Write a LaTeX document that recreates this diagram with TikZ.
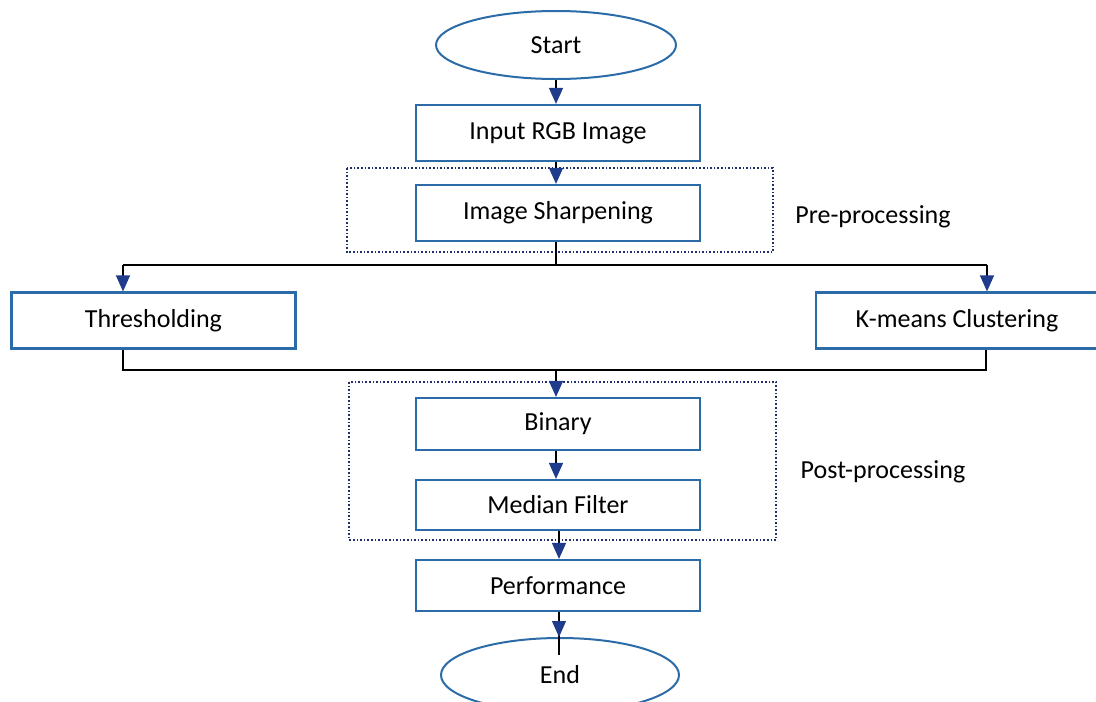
\documentclass[tikz,border=0pt]{standalone}
\usepackage{fontspec}
\setmainfont{Carlito}
\usetikzlibrary{arrows.meta,shapes.geometric}
\definecolor{boxblue}{HTML}{2B6CA8}
\definecolor{tipblue}{HTML}{1F3B8C}
\definecolor{dotblue}{HTML}{1F2F6B}
\tikzset{
  procbox/.style={draw=boxblue, line width=2.2pt, fill=white, minimum width=284pt, minimum height=56pt, inner sep=0pt, font=\fontsize{26}{30}\selectfont},
  termnode/.style={ellipse, draw=boxblue, line width=2pt, fill=white, minimum width=240pt, minimum height=68pt, inner sep=0pt, font=\fontsize{26}{30}\selectfont},
  flow/.style={draw=black, line width=1.2pt, -{Triangle[width=14pt,length=16pt,fill=tipblue,color=tipblue]}},
  plainline/.style={draw=black, line width=1.2pt},
  groupbox/.style={draw=dotblue, line width=1.6pt, dotted},
  grouplabel/.style={font=\fontsize{26}{30}\selectfont, anchor=center}
}
\begin{document}
\begin{tikzpicture}[x=1pt,y=-1pt]
\useasboundingbox (0,0) rectangle (1096,702);
% group frames
\draw[groupbox] (347,168) rectangle (773,252);
\draw[groupbox] (349,382) rectangle (776,540);
% terminals and steps
\node[termnode] (start) at (556,45) {Start};
\node[procbox] (input) at (558,133) {Input RGB Image};
\node[procbox] (sharp) at (558,213) {Image Sharpening};
\node[procbox] (thresh) at (153.5,320.5) {Thresholding};
\node[procbox, minimum width=282pt] (kmeans) at (957,320.5) {K-means Clustering};
\node[procbox, minimum height=52pt] (binary) at (558,424) {Binary};
\node[procbox, minimum height=50pt] (median) at (558,505) {Median Filter};
\node[procbox, minimum height=51pt] (perf) at (558,585.5) {Performance};
\node[termnode, minimum width=238pt, minimum height=74pt] (end) at (560,675) {End};
\node[grouplabel] (prelab) at (873,217) {Pre-processing};
\node[grouplabel] (postlab) at (883,472) {Post-processing};
% branch and merge points
\coordinate (split) at (556,265);
\coordinate (splitL) at (123,265);
\coordinate (splitR) at (987,265);
\coordinate (merge) at (556,370);
\coordinate (mergeL) at (123,370);
\coordinate (mergeR) at (986,370);
\coordinate (endin) at (559,655);
% connectors
\draw[flow] (start.south) -- (start.south |- input.north);
\draw[flow] (input.south -| 556,0) -- (556,0 |- sharp.north);
\draw[plainline] (556,0 |- sharp.south) -- (split);
\draw[plainline] (splitL) -- (splitR);
\draw[flow] (splitL) -- (splitL |- thresh.north);
\draw[flow] (splitR) -- (splitR |- kmeans.north);
\draw[plainline] (mergeL |- thresh.south) -- (mergeL) -- (mergeR) -- (mergeR |- kmeans.south);
\draw[flow] (merge) -- (merge |- binary.north);
\draw[flow] (binary.south -| 556,0) -- (556,0 |- median.north);
\draw[flow] (median.south -| 559,0) -- (559,0 |- perf.north);
\draw[plainline] (perf.south -| endin) -- (endin);
\draw[flow] (perf.south -| endin) -- (endin |- end.north);
\end{tikzpicture}
\end{document}
